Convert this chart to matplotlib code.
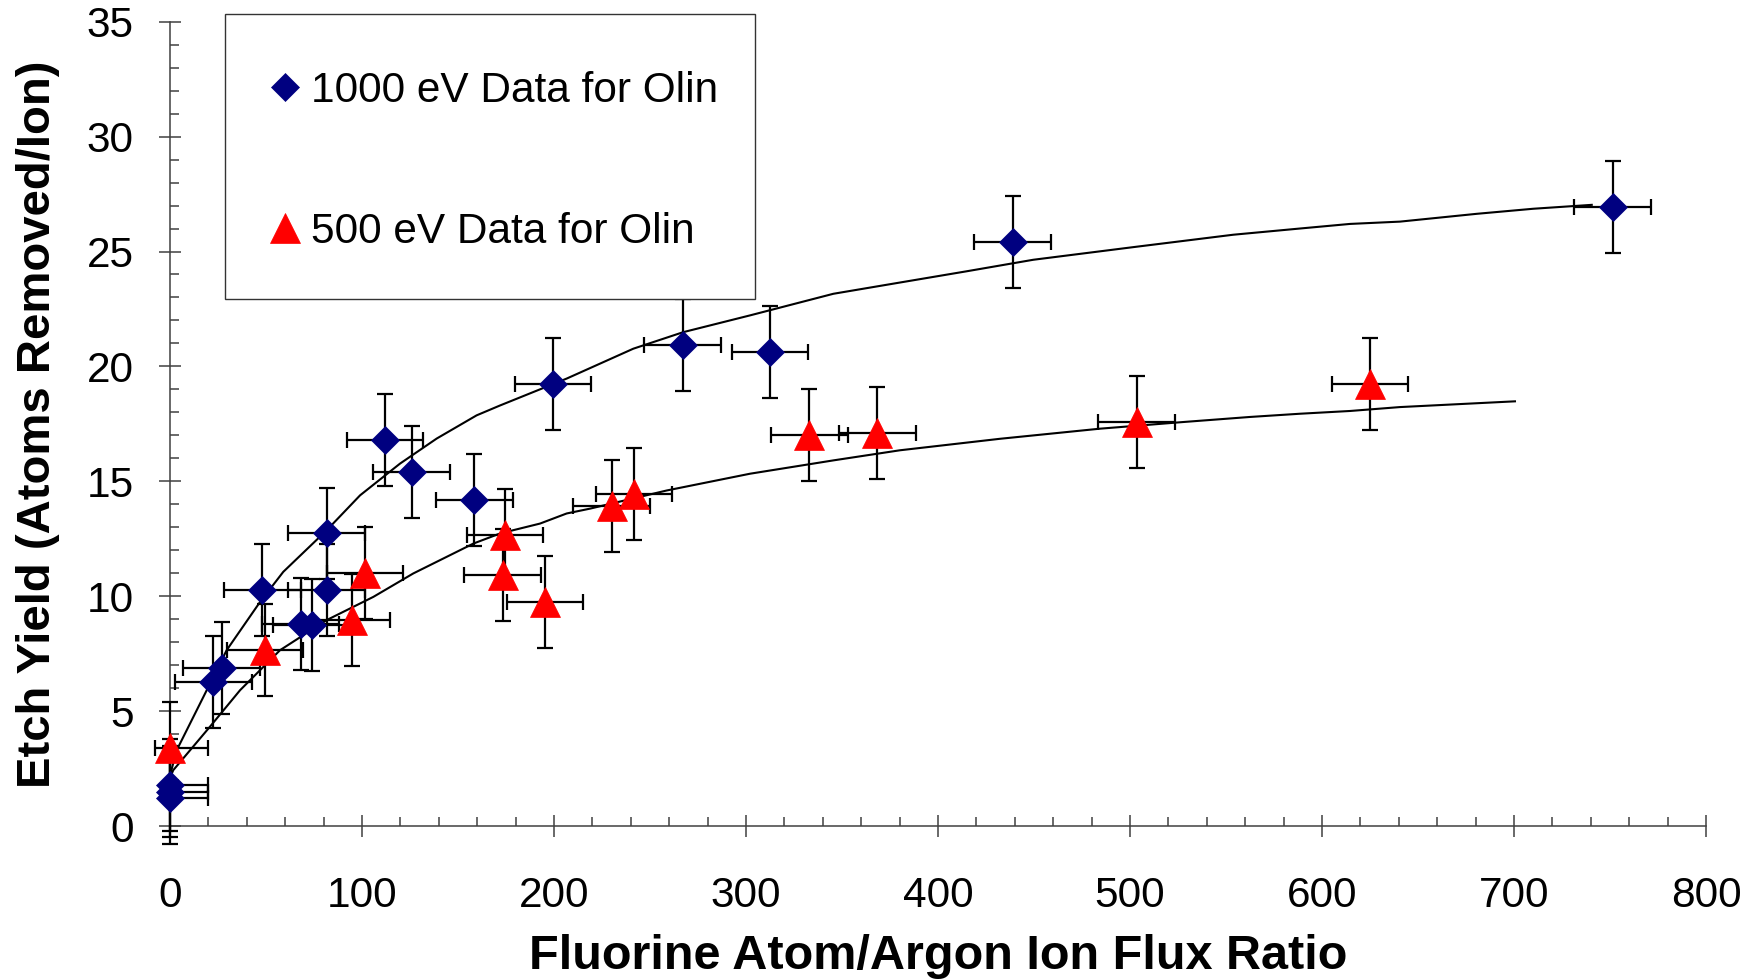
import matplotlib
matplotlib.use("Agg")
import matplotlib.pyplot as plt
from matplotlib.ticker import MultipleLocator
from matplotlib.patches import Rectangle

plt.rcParams['font.family'] = ['Liberation Sans', 'DejaVu Sans']

# 1000 eV data (blue diamonds)
x_1000 = [0, 0, 0, 22.6, 27, 48.1, 68.1, 73.8, 81.6, 81.6, 112, 125.9, 158.5, 199.5, 267, 312.5, 438.9, 751.5]
y_1000 = [1.2, 1.5, 1.8, 6.27, 6.86, 10.26, 8.81, 8.74, 12.73, 10.26, 16.78, 15.4, 14.2, 19.25, 20.95, 20.62, 25.4, 26.93]

# 500 eV data (red triangles)
x_500 = [0, 49.5, 94.6, 101.6, 173.3, 174.5, 195.3, 230, 241.7, 333, 368.4, 503.5, 625]
y_500 = [3.38, 7.65, 8.96, 10.99, 10.91, 12.65, 9.75, 13.91, 14.46, 17.03, 17.1, 17.6, 19.25]

xerr_val = 20
yerr_val = 2

# fitted curves
fit_1000_x = [0, 3.5, 17.4, 29.5, 46.9, 59, 81.6, 99, 119.8, 138.9, 159.7, 171.9, 206.6, 241.3,
              267.3, 302.1, 345.5, 380.2, 415, 449.6, 501.7, 553.8, 588.5, 614.6, 640.6, 680.6, 710, 740.5]
fit_1000_y = [2.2, 3.3, 5.62, 7.65, 9.75, 11.06, 12.87, 14.39, 15.77, 16.86, 17.87, 18.3, 19.47, 20.77,
              21.49, 22.22, 23.16, 23.65, 24.14, 24.64, 25.19, 25.73, 26.0, 26.2, 26.3, 26.64, 26.86, 27.03]

fit_500_x = [0, 1.7, 20.8, 36.5, 57.3, 81.6, 105.9, 126.7, 158, 171.9, 192.7, 206.6, 218.75, 258.7,
             302.1, 345.5, 380.2, 432.3, 484.4, 527.8, 562.5, 588.5, 614.6, 640.6, 700.5]
fit_500_y = [2.1, 2.43, 4.32, 5.91, 7.65, 8.96, 9.97, 10.99, 12.29, 12.73, 13.16, 13.6, 13.81, 14.6,
             15.33, 15.91, 16.35, 16.85, 17.29, 17.58, 17.8, 17.94, 18.06, 18.23, 18.48]

W, H = 1756, 980
fig = plt.figure(figsize=(W / 100, H / 100), dpi=100)
ax = fig.add_axes([170 / W, 1 - 826 / H, (1706 - 170) / W, (826 - 21.7) / H])

# curves
ax.plot(fit_1000_x, fit_1000_y, color='black', lw=1.5, zorder=2)
ax.plot(fit_500_x, fit_500_y, color='black', lw=1.5, zorder=2)

# error bars (points on x=0 have no left error)
xerr_1000 = [[0 if x == 0 else xerr_val for x in x_1000], [xerr_val] * len(x_1000)]
xerr_500 = [[8 if x == 0 else xerr_val for x in x_500], [xerr_val] * len(x_500)]
for xs, ys, xe in [(x_1000, y_1000, xerr_1000), (x_500, y_500, xerr_500)]:
    eb = ax.errorbar(xs, ys, xerr=xe, yerr=yerr_val, fmt='none', ecolor='black',
                     elinewidth=1.6, capsize=5.5, capthick=1.6, zorder=3)
    for art in eb.get_children():
        art.set_clip_on(False)

l1, = ax.plot(x_1000, y_1000, linestyle='none', marker='D', ms=14.5, color='#000080',
              mec='#000080', mew=0.5, zorder=4, clip_on=False, label='1000 eV Data for Olin')
l2, = ax.plot(x_500, y_500, linestyle='none', marker='^', ms=21, color='#ff0000',
              mec='#ff0000', mew=0.5, zorder=5, clip_on=False, label='500 eV Data for Olin')

ax.set_xlim(0, 800)
ax.set_ylim(0, 35)
ax.spines['top'].set_visible(False)
ax.spines['right'].set_visible(False)
for s in ['left', 'bottom']:
    ax.spines[s].set_color('#404040')
    ax.spines[s].set_linewidth(1.1)

ax.xaxis.set_major_locator(MultipleLocator(100))
ax.xaxis.set_minor_locator(MultipleLocator(20))
ax.yaxis.set_major_locator(MultipleLocator(5))
ax.yaxis.set_minor_locator(MultipleLocator(1))
ax.tick_params(which='major', direction='inout', length=16, width=1.1, color='#404040',
               labelsize=30.5)
ax.tick_params(which='minor', direction='in', length=6.5, width=1.1, color='#404040')
ax.tick_params(axis='x', which='major', pad=28)
ax.tick_params(axis='y', which='major', pad=18)

ax.set_xlabel('Fluorine Atom/Argon Ion Flux Ratio', fontsize=35, fontweight='bold', labelpad=13)
ax.set_ylabel('Etch Yield (Atoms Removed/Ion)', fontsize=34, fontweight='bold', labelpad=19)

# legend box: white, on top of the error bars
box = Rectangle((225 / W, 1 - 299 / H), 530 / W, 285 / H, transform=fig.transFigure,
                facecolor='white', edgecolor='#333333', lw=1.0, zorder=6, clip_on=False)
ax.add_patch(box)

leg = ax.legend(handles=[l1, l2], loc='upper left', bbox_to_anchor=(263.4 / W, 1 - 70.5 / H),
                bbox_transform=fig.transFigure, borderaxespad=0, borderpad=0, fontsize=30.5,
                frameon=False, labelspacing=2.39, handlelength=1.0, handletextpad=0.13,
                numpoints=1)
leg.set_zorder(7)

fig.savefig('out.png', dpi=100)
